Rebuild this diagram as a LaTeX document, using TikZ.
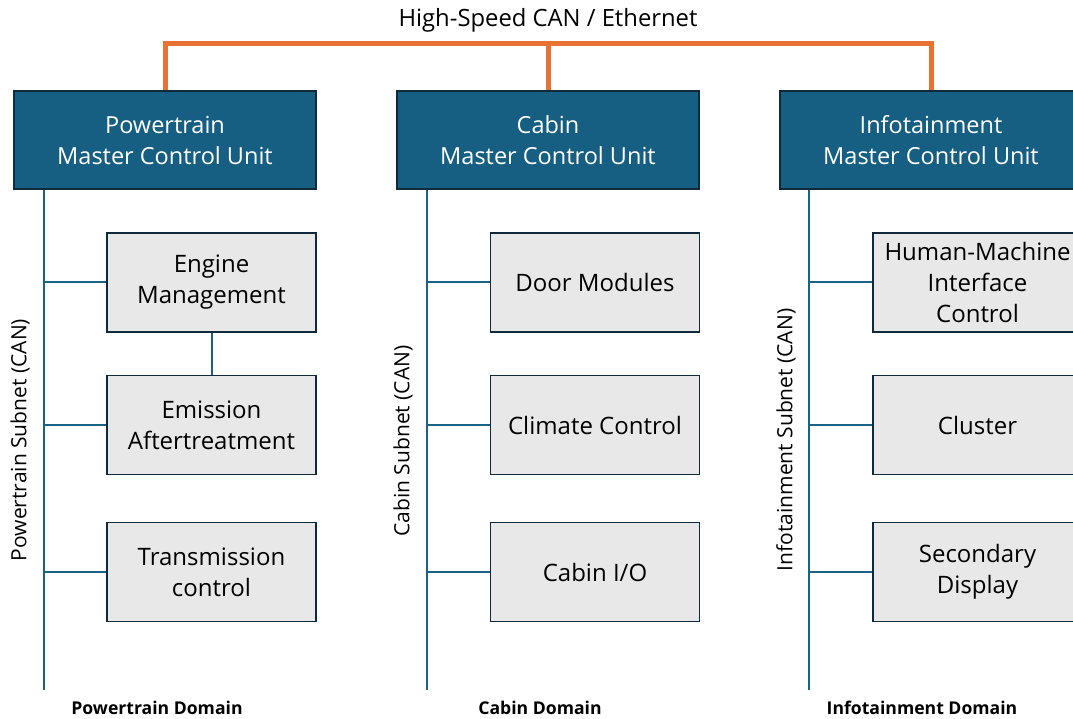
\documentclass[tikz,border=0pt]{standalone}
\usepackage{fontspec}
\setmainfont{Open Sans}
\begin{document}
\begin{tikzpicture}[x=1pt,y=-1pt,
  master/.style={draw=navyedge,line width=1.5pt,fill=mcublue,text=white,
    minimum width=302pt,minimum height=98pt,align=center,inner sep=0pt,
    font=\fontsize{23.5}{31}\selectfont},
  ecu/.style={draw=navyedge,line width=1.5pt,fill=ecugray,text=black,
    minimum width=209pt,minimum height=99pt,align=center,inner sep=0pt,
    font=\fontsize{24}{31}\selectfont},
  bus/.style={draw=busblue,line width=2.5pt},
  eth/.style={draw=ethorange,line width=5pt},
  sublabel/.style={rotate=90,font=\fontsize{21}{24}\selectfont},
  domainlabel/.style={font=\bfseries\fontsize{17.6}{20}\selectfont}]
\definecolor{mcublue}{HTML}{175F82}
\definecolor{navyedge}{HTML}{0E2A3C}
\definecolor{ecugray}{HTML}{E8E8E8}
\definecolor{busblue}{HTML}{1A6286}
\definecolor{ethorange}{HTML}{E97132}
\useasboundingbox (0,0) rectangle (1073,719);
\clip (0,0) rectangle (1073,719);

% backbone
\node[font=\fontsize{23.8}{26}\selectfont] (eth) at (548,20) {High-Speed CAN / Ethernet};
\coordinate (ethy) at (0,44);

% master control units
\node[master] (pm) at (165,140) {Powertrain\\Master Control Unit};
\node[master] (cm) at (548,140) {Cabin\\Master Control Unit};
\node[master] (im) at (931,140) {Infotainment\\Master Control Unit};

\draw[eth] (pm.north) -- (pm.north |- ethy) -- (im.north |- ethy) -- (im.north);
\draw[eth] (cm.north) -- (cm.north |- ethy);

% subnet buses
\coordinate (pbus) at (44,190);  \coordinate (pend) at (44,690);
\coordinate (cbus) at (427,190); \coordinate (cend) at (427,690);
\coordinate (ibus) at (809,190); \coordinate (iend) at (809,690);
\draw[bus] (pbus) -- (pend);
\draw[bus] (cbus) -- (cend);
\draw[bus] (ibus) -- (iend);

% powertrain ECUs
\node[ecu] (eng) at (211.5,282.5) {Engine\\Management};
\node[ecu] (emi) at (211.5,425) {Emission\\Aftertreatment};
\node[ecu] (trn) at (211.5,572) {Transmission\\control};
% cabin ECUs
\node[ecu] (door) at (595,282.5) {Door Modules};
\node[ecu] (clim) at (595,425) {Climate Control};
\node[ecu] (cio) at (595,572) {Cabin I/O};
% infotainment ECUs
\node[ecu] (hmi) at (977.5,282.5) {Human-Machine\\Interface\\Control};
\node[ecu] (clu) at (977.5,425) {Cluster};
\node[ecu] (sec) at (977.5,572) {Secondary\\Display};

% stubs
\foreach \b/\n in {pbus/eng,pbus/emi,pbus/trn,cbus/door,cbus/clim,cbus/cio,ibus/hmi,ibus/clu,ibus/sec}
  \draw[bus,line width=2pt] (\n.west) -- (\n.west -| \b);
\draw[bus,line width=2pt] (eng.south) -- (emi.north);

% subnet labels
\node[sublabel] (psl) at (20,440) {Powertrain Subnet (CAN)};
\node[sublabel] (csl) at (403,441) {Cabin Subnet (CAN)};
\node[sublabel] (isl) at (786,440) {Infotainment Subnet (CAN)};

% domain labels
\node[domainlabel] (pd) at (157,708) {Powertrain Domain};
\node[domainlabel] (cd) at (540,708) {Cabin Domain};
\node[domainlabel] (id) at (922,708) {Infotainment Domain};
\end{tikzpicture}
\end{document}
